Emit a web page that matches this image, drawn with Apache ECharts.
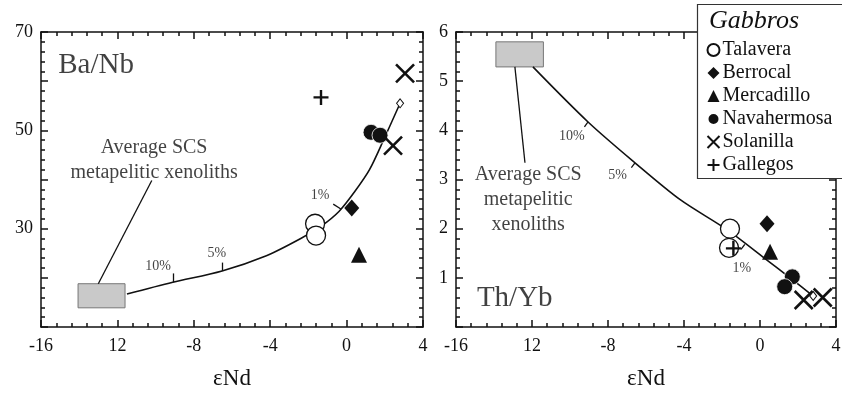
<!DOCTYPE html>
<html>
<head>
<meta charset="utf-8">
<script src="https://cdn.jsdelivr.net/npm/echarts@6/dist/echarts.min.js"></script>
<style>
html, body { margin: 0; background: #fff; }
#main { width: 842px; height: 393px; }
</style>
</head>
<body>
<div id="main"></div>
<script>
// axis ticks (the original prints "12" for -12)
const xTickValues = [-16, -12, -8, -4, 0, 4];
const xTickLabels = ['-16', '12', '-8', '-4', '0', '4'];
const baNbTickLabels = ['30', '50', '70'];
const thYbTickLabels = ['1', '2', '3', '4', '5', '6'];
const groups = ['Talavera', 'Berrocal', 'Mercadillo', 'Navahermosa', 'Solanilla', 'Gallegos'];

// Ba/Nb vs eNd
const talaveraBa = [[-1.65, 31.0], [-1.6, 28.6]];
const berrocalBa = [[0.27, 34.2]];
const mercadilloBa = [[0.65, 24.7]];
const navahermosaBa = [[1.28, 49.6], [1.75, 49.0]];
const solanillaBa = [[3.06, 61.6], [2.43, 46.9]];
const gallegosBa = [[-1.34, 56.7]];

// Th/Yb vs eNd
const talaveraTh = [[-1.58, 2.0], [-1.63, 1.61]];
const berrocalTh = [[0.37, 2.1]];
const mercadilloTh = [[0.53, 1.53]];
const navahermosaTh = [[1.7, 1.02], [1.3, 0.82]];
const solanillaTh = [[2.3, 0.55], [3.3, 0.6]];
const gallegosTh = [[-1.4, 1.6]];

// mixing curves toward average SCS metapelitic xenoliths
const curveBaX = [-11.5, -9.1, -6.52, -4.2, -2.4, -1.3, -0.4, 0.4, 1.2, 2.0, 2.8];
const curveBaY = [16.7, 19.1, 21.4, 24.5, 28.0, 30.6, 33.5, 37.4, 42.0, 48.6, 55.5];
const curveThX = [-11.95, -9.05, -6.58, -4.2, -1.74, 0.4, 1.58, 2.8];
const curveThY = [5.29, 4.17, 3.34, 2.59, 1.98, 1.35, 1.0, 0.63];

// xenolith boxes [xmin, ymax, xmax, ymin]
const boxBa = [-14.06, 18.8, -11.6, 13.9];
const boxTh = [-13.9, 5.8, -11.4, 5.29];

// percentage tick marks on the curves
const pctTicksBa = [[[-9.1, 19.1], [-9.1, 20.9]], [[-6.52, 21.4], [-6.52, 23.1]], [[-0.3, 34.0], [-0.7, 35.0]]];
const pctTicksTh = [[[-9.05, 4.17], [-9.24, 4.07]], [[-6.58, 3.34], [-6.77, 3.24]], [[-0.8, 1.68], [-1.0, 1.58]]];
const pctLabels = ['10%', '5%', '1%'];
const pctLabelBa = [[-9.87, 22.4], [-6.79, 24.9], [-1.39, 36.7]];
const pctLabelTh = [[-9.9, 3.87], [-7.5, 3.09], [-0.95, 1.2]];

// pointer from box to its caption
const pointerBa = [[-13.0, 18.8], [-10.2, 39.8]];
const pointerTh = [[-12.9, 5.29], [-12.37, 3.34]];
const captionBa = [-10.08, 44.0];
const captionTh = [-12.2, 2.59];
const titleBa = [-15.1, 63.3];
const titleTh = [-14.9, 0.59];

const FONT = 'Liberation Serif';
const INK = '#111';

const symbolStyle = {
    Talavera: { symbol: 'circle', size: 19, itemStyle: { color: '#fff', borderColor: INK, borderWidth: 1.3, opacity: 1 } },
    Berrocal: { symbol: 'diamond', size: [15, 17], itemStyle: { color: INK, opacity: 1 } },
    Mercadillo: { symbol: 'triangle', size: 16, itemStyle: { color: INK, opacity: 1 } },
    Navahermosa: { symbol: 'circle', size: 16, itemStyle: { color: INK, borderColor: '#fff', borderWidth: 0.8, opacity: 1 } },
    Solanilla: { symbol: 'path://M0,0L10,10M10,0L0,10', size: 18, itemStyle: { color: 'none', borderColor: INK, borderWidth: 2.6, opacity: 1 } },
    Gallegos: { symbol: 'path://M5,0L5,10M0,5L10,5', size: 15, itemStyle: { color: 'none', borderColor: INK, borderWidth: 2.4, opacity: 1 } }
};

const zip = (xs, ys) => xs.map((x, i) => [x, ys[i]]);

function groupSeries(name, data, ai) {
    const s = symbolStyle[name];
    return {
        name: name, type: 'scatter', xAxisIndex: ai, yAxisIndex: ai,
        symbol: s.symbol, symbolSize: s.size, itemStyle: s.itemStyle,
        z: 4, data: data
    };
}

function curveSeries(xs, ys, box, ticks, pointer, ai) {
    return {
        type: 'line', xAxisIndex: ai, yAxisIndex: ai, silent: true,
        smooth: 0.3, symbol: 'none', z: 3,
        lineStyle: { color: INK, width: 1.6 },
        data: zip(xs, ys),
        markArea: {
            silent: true,
            itemStyle: { color: '#c9c9c9', borderColor: '#777', borderWidth: 1, opacity: 1 },
            data: [[{ coord: [box[0], box[1]] }, { coord: [box[2], box[3]] }]]
        },
        markLine: {
            silent: true, symbol: ['none', 'none'], label: { show: false },
            lineStyle: { color: INK, width: 1.3, type: 'solid' },
            data: ticks.concat([pointer]).map(p => [{ coord: p[0] }, { coord: p[1] }])
        }
    };
}

function endSeries(xs, ys, ai) {
    // small open diamond at the end of the curve
    return {
        type: 'scatter', xAxisIndex: ai, yAxisIndex: ai, silent: true, z: 5,
        symbol: 'diamond', symbolSize: [7, 9],
        itemStyle: { color: '#fff', borderColor: INK, borderWidth: 1, opacity: 1 },
        data: [[xs[xs.length - 1], ys[ys.length - 1]]]
    };
}

function noteSeries(title, titlePos, caption, captionPos, pctPos, ai) {
    const data = [
        { value: titlePos, name: title, label: { fontSize: 29, align: 'left' } },
        { value: captionPos, name: caption, label: { fontSize: 20, lineHeight: 25 } }
    ];
    pctPos.forEach((p, i) => data.push({ value: p, name: pctLabels[i], label: { fontSize: 14 } }));
    return {
        type: 'scatter', xAxisIndex: ai, yAxisIndex: ai, silent: true, z: 6,
        symbolSize: 1, itemStyle: { color: 'rgba(0,0,0,0)' },
        label: {
            show: true, position: 'inside', formatter: p => p.name,
            color: INK, fontFamily: FONT, align: 'center', verticalAlign: 'middle'
        },
        data: data
    };
}

// shared frame style: inward major and minor ticks on every side
const frameSide = {
    type: 'value', splitLine: { show: false },
    axisLine: { show: true, onZero: false, lineStyle: { color: INK, width: 1.5 } },
    axisTick: { show: true, inside: true, length: 7, lineStyle: { color: INK, width: 1.5 } },
    minorTick: { show: true, splitNumber: 5, length: 4, lineStyle: { color: INK, width: 1.5 } }
};

function xAxes(gi) {
    const range = { gridIndex: gi, min: -16, max: 4, interval: 4 };
    return [
        Object.assign({}, frameSide, range, {
            position: 'bottom',
            name: 'εNd', nameLocation: 'middle', nameGap: 40,
            nameTextStyle: { fontFamily: FONT, fontSize: 23, color: INK },
            axisLabel: {
                margin: 10, fontFamily: FONT, fontSize: 18, color: INK,
                formatter: v => xTickLabels[xTickValues.indexOf(v)]
            }
        }),
        Object.assign({}, frameSide, range, { position: 'top', axisLabel: { show: false } })
    ];
}

function yAxes(gi, min, max, interval, labels) {
    const range = { gridIndex: gi, min: min, max: max, interval: interval };
    return [
        Object.assign({}, frameSide, range, {
            position: 'left',
            axisLabel: {
                margin: 8, fontFamily: FONT, fontSize: 18, color: INK,
                formatter: v => (labels.indexOf(String(v)) >= 0 ? String(v) : '')
            }
        }),
        Object.assign({}, frameSide, range, { position: 'right', axisLabel: { show: false } })
    ];
}

// each grid owns two x and two y axes; data go on the first of each
const A0 = 0, A1 = 2;

const chart = echarts.init(document.getElementById('main'));

const series = [
    curveSeries(curveBaX, curveBaY, boxBa, pctTicksBa, pointerBa, A0),
    endSeries(curveBaX, curveBaY, A0),
    noteSeries('Ba/Nb', titleBa, 'Average SCS\nmetapelitic xenoliths', captionBa, pctLabelBa, A0),
    groupSeries('Talavera', talaveraBa, A0),
    groupSeries('Berrocal', berrocalBa, A0),
    groupSeries('Mercadillo', mercadilloBa, A0),
    groupSeries('Navahermosa', navahermosaBa, A0),
    groupSeries('Solanilla', solanillaBa, A0),
    groupSeries('Gallegos', gallegosBa, A0),

    curveSeries(curveThX, curveThY, boxTh, pctTicksTh, pointerTh, A1),
    endSeries(curveThX, curveThY, A1),
    noteSeries('Th/Yb', titleTh, 'Average SCS\nmetapelitic\nxenoliths', captionTh, pctLabelTh, A1),
    groupSeries('Talavera', talaveraTh, A1),
    groupSeries('Berrocal', berrocalTh, A1),
    groupSeries('Mercadillo', mercadilloTh, A1),
    groupSeries('Navahermosa', navahermosaTh, A1),
    groupSeries('Solanilla', solanillaTh, A1),
    groupSeries('Gallegos', gallegosTh, A1)
];

chart.setOption({
    animation: false,
    backgroundColor: '#fff',
    grid: [
        { left: 41, top: 32, width: 382, height: 295, outerBoundsMode: 'none', containLabel: false },
        { left: 456, top: 32, width: 380, height: 295, outerBoundsMode: 'none', containLabel: false }
    ],
    xAxis: xAxes(0).concat(xAxes(1)),
    yAxis: yAxes(0, 10, 70, 10, baNbTickLabels).concat(yAxes(1, 0, 6, 1, thYbTickLabels)),
    legend: {
        data: groups, orient: 'vertical', left: 700, top: 35, z: 100,
        selectedMode: false, itemWidth: 12, itemHeight: 12, itemGap: 3,
        textStyle: { fontFamily: FONT, fontSize: 20, color: INK, lineHeight: 16, padding: [0, 0, 0, -2] }
    },
    graphic: [
        { type: 'rect', z: 90, shape: { x: 697.5, y: 4.5, width: 160, height: 174 },
          style: { fill: '#fff', stroke: '#333', lineWidth: 1.2 } },
        { type: 'text', z: 100, left: 709, top: 8,
          style: { text: 'Gabbros', fill: INK, font: 'italic 26px "Liberation Serif"' } }
    ],
    series: series
});
</script>
</body>
</html>
